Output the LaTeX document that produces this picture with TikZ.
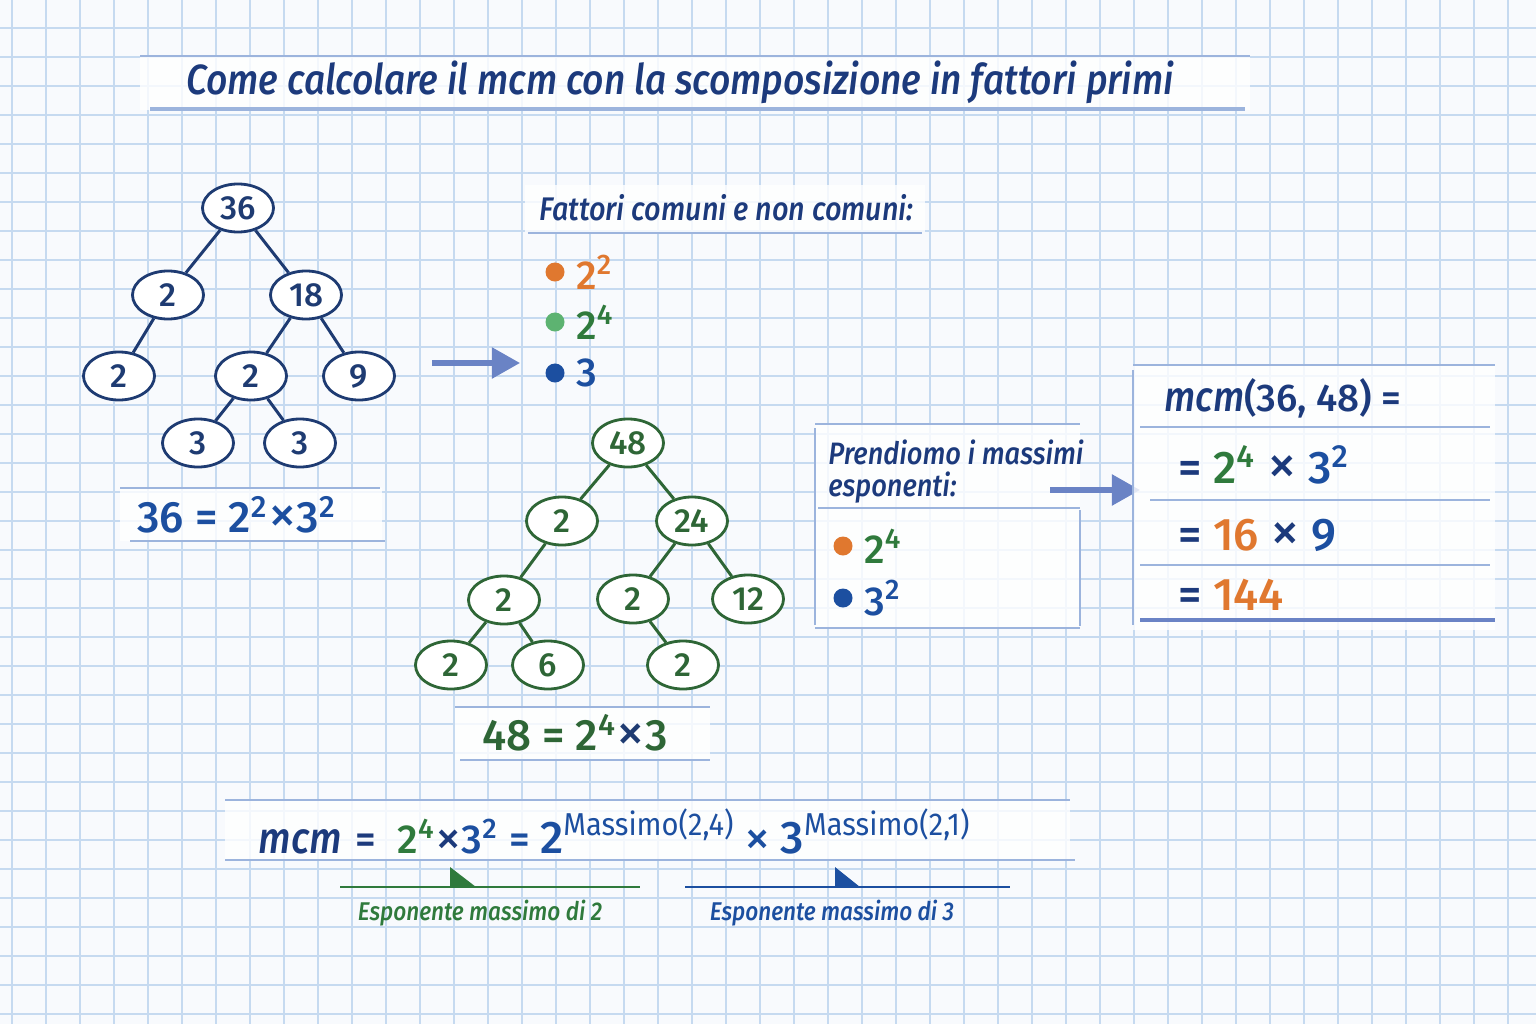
\documentclass[tikz,border=0pt]{standalone}
\usepackage{fontspec}
\setmainfont{Fira Sans}[BoldFont={Fira Sans Medium},BoldItalicFont={Fira Sans Medium Italic}]
\newfontfamily\handfont{Fira Sans Medium Italic}[FakeStretch=0.88]
\newfontfamily\narrowfont{Fira Sans}[FakeStretch=0.92]
\usetikzlibrary{positioning,arrows.meta,shapes.geometric}

\definecolor{paper}{HTML}{F8FAFD}
\definecolor{gridblue}{HTML}{C6DAF0}
\definecolor{ruleblue}{HTML}{9CB4DD}
\definecolor{inkblue}{HTML}{1C3A7C}
\definecolor{treeblue}{HTML}{1E3B72}
\definecolor{mathblue}{HTML}{1C4FA0}
\definecolor{treegreen}{HTML}{2E6636}
\definecolor{mathgreen}{HTML}{2F7A3C}
\definecolor{dotgreen}{HTML}{5DB371}
\definecolor{accorange}{HTML}{E0782F}
\definecolor{arrowblue}{HTML}{6A83C5}

\newcommand{\massimo}[1]{\raisebox{0.85ex}{\narrowfont\mdseries\fontsize{9}{9}\selectfont Massimo(#1)}}
\newcommand{\thinx}{\raisebox{-0.05ex}{\mdseries\scalebox{1.3}{×}}}

\begin{document}
\begin{tikzpicture}[x=0.01cm, y=0.01cm,
    grid line/.style={draw=gridblue, line width=0.3pt},
    rule/.style={draw=ruleblue, line width=0.6pt},
    panel/.style={fill=white, fill opacity=0.8},
    blue node/.style={ellipse, draw=treeblue, line width=0.8pt, fill=white,
      minimum width=0.71cm, minimum height=0.48cm, inner sep=0pt,
      text=treeblue, font=\fontsize{9.5}{10}\selectfont\bfseries},
    green node/.style={blue node, draw=treegreen, text=treegreen},
    blue edge/.style={draw=treeblue, line width=0.85pt},
    green edge/.style={draw=treegreen, line width=0.85pt},
    note text/.style={text=inkblue, font=\handfont\fontsize{9}{10}\selectfont},
    eq text/.style={font=\fontsize{12.5}{14}\selectfont\bfseries},
    item/.style={font=\fontsize{11.5}{13}\selectfont\bfseries, inner sep=2pt},
    dot/.style={circle, minimum size=0.19cm, inner sep=0pt},
    big arrow/.style={draw=arrowblue, line width=1.5pt,
      -{Triangle[length=0.28cm, width=0.3cm]}},
    label text/.style={font=\handfont\fontsize{7.3}{9}\selectfont}]

  \useasboundingbox (0,0) rectangle (1536,-1024);

  % squared paper
  \fill[paper] (0,0) rectangle (1536,-1024);
  \foreach \x in {12,46,...,1536} \draw[grid line] (\x,0) -- (\x,-1024);
  \foreach \y in {28,57,...,1024} \draw[grid line] (0,-\y) -- (1536,-\y);

  % title
  \fill[panel] (140,-55) rectangle (1250,-110);
  \draw[rule] (140,-56) -- (1250,-56);
  \draw[rule, line width=1pt] (150,-109) -- (1245,-109);
  \node[text=inkblue, font=\handfont\fontsize{12}{14}\selectfont] (title) at (680,-82)
    {Come calcolare il mcm con la scomposizione in fattori primi};

  % tree of 36
  \node[blue node] (n36) at (238,-208) {36};
  \node[blue node] (n2a) at (168,-295) {2};
  \node[blue node] (n18) at (306,-295) {18};
  \node[blue node] (n2b) at (119,-376) {2};
  \node[blue node] (n2c) at (251,-376) {2};
  \node[blue node] (n9) at (359,-376) {9};
  \node[blue node] (n3a) at (198,-443) {3};
  \node[blue node] (n3b) at (300,-443) {3};

  \path[blue edge]
  (n36) edge (n2a)
  (n36) edge (n18)
  (n2a) edge (n2b)
  (n18) edge (n2c)
  (n18) edge (n9)
  (n2c) edge (n3a)
  (n2c) edge (n3b)
  ;

  \fill[panel] (120,-488) rectangle (382,-541);
  \draw[rule] (120,-488) -- (380,-488);
  \draw[rule] (130,-541) -- (385,-541);
  \node[eq text, text=mathblue] (eq36) at (237,-515)
    {36 = 2\textsuperscript{2}\thinx 3\textsuperscript{2}};

  % tree of 48
  \node[green node] (m48) at (628,-443) {48};
  \node[green node] (m2a) at (562,-521) {2};
  \node[green node] (m24) at (692,-521) {24};
  \node[green node] (m2b) at (504,-600) {2};
  \node[green node] (m2c) at (633,-599) {2};
  \node[green node] (m12) at (748,-599) {12};
  \node[green node] (m2d) at (451,-665) {2};
  \node[green node] (m6) at (548,-665) {6};
  \node[green node] (m2e) at (683,-665) {2};

  \path[green edge]
  (m48) edge (m2a)
  (m48) edge (m24)
  (m2a) edge (m2b)
  (m24) edge (m2c)
  (m24) edge (m12)
  (m2b) edge (m2d)
  (m2b) edge (m6)
  (m2c) edge (m2e)
  ;

  \fill[panel] (455,-707) rectangle (710,-760);
  \draw[rule] (455,-707) -- (710,-707);
  \draw[rule] (460,-760) -- (710,-760);
  \node[eq text, text=treegreen] (eq48) at (575,-733)
    {48 = 2\textsuperscript{4}{\color{treeblue}\thinx}3};

  % common and non common factors
  \coordinate (a1s) at (432,-363);
  \coordinate (a1e) at (520,-363);
  \draw[big arrow] (a1s) -- (a1e);

  \fill[panel] (525,-185) rectangle (925,-232);
  \draw[rule] (528,-233) -- (922,-233);
  \node[note text, anchor=west, font=\handfont\fontsize{9.3}{10}\selectfont] (fattori) at (527,-208) {Fattori comuni e non comuni:};
  \node[dot, fill=accorange] (f1) at (555,-272) {};
  \node[item, right=1pt of f1, text=accorange] (f1t) {2\textsuperscript{2}};
  \node[dot, fill=dotgreen] (f2) at (555,-322) {};
  \node[item, right=1pt of f2, text=mathgreen] (f2t) {2\textsuperscript{4}};
  \node[dot, fill=mathblue] (f3) at (555,-373) {};
  \node[item, right=1pt of f3, text=mathblue] (f3t) {3};

  % highest exponents
  \fill[panel] (815,-425) rectangle (1080,-628);
  \draw[rule] (815,-424) -- (1080,-424);
  \draw[rule] (815,-428) -- (815,-625);
  \draw[rule] (818,-508) -- (1080,-508);
  \draw[rule] (1080,-510) -- (1080,-626);
  \draw[rule] (815,-628) -- (1080,-628);
  \node[note text, anchor=west, font=\handfont\fontsize{8.8}{10}\selectfont] (prend1) at (816,-452) {Prendiomo i massimi};
  \node[note text, anchor=west, font=\handfont\fontsize{8.8}{10}\selectfont] (prend2) at (816,-488) {esponenti:};
  \node[dot, fill=accorange] (p1) at (843,-546) {};
  \node[item, right=1pt of p1, text=mathgreen] (p1t) {2\textsuperscript{4}};
  \node[dot, fill=mathblue] (p2) at (843,-598) {};
  \node[item, right=1pt of p2, text=mathblue] (p2t) {3\textsuperscript{2}};

  \coordinate (a2s) at (1050,-490);
  \coordinate (a2e) at (1140,-490);
  \draw[big arrow] (a2s) -- (a2e);

  % result
  \fill[panel] (1133,-365) rectangle (1495,-630);
  \draw[rule] (1133,-365) -- (1495,-365);
  \draw[rule] (1133,-370) -- (1133,-625);
  \draw[rule] (1140,-427) -- (1490,-427);
  \draw[rule] (1150,-500) -- (1490,-500);
  \draw[rule] (1140,-565) -- (1490,-565);
  \draw[rule, line width=1.2pt, draw=arrowblue] (1140,-620) -- (1495,-620);
  \node[anchor=west, text=inkblue, font=\fontsize{11}{12}\selectfont\bfseries] (r0) at (1152,-398)
    {{\handfont\mdseries\fontsize{12}{12}\selectfont mcm}(36, 48) =};
  \node[anchor=west, text=inkblue, font=\fontsize{13}{15}\selectfont\bfseries] (r1) at (1166,-465)
    {= {\color{mathgreen}2\textsuperscript{4}} \thinx\ {\color{mathblue}3\textsuperscript{2}}};
  \node[anchor=west, text=inkblue, font=\fontsize{13}{15}\selectfont\bfseries] (r2) at (1166,-535)
    {= {\color{accorange}16} \thinx\ {\color{mathblue}9}};
  \node[anchor=west, text=inkblue, font=\fontsize{13}{15}\selectfont\bfseries] (r3) at (1166,-595)
    {= {\color{accorange}144}};

  % formula at the bottom
  \fill[panel] (225,-800) rectangle (1070,-860);
  \draw[rule] (225,-800) -- (1070,-800);
  \draw[rule] (225,-860) -- (1075,-860);
  \node[anchor=west, inner sep=0pt, text=inkblue, font=\fontsize{11.5}{13}\selectfont\bfseries] (mcmeq) at (258,-832)
    {{\handfont\mdseries\fontsize{12.5}{13}\selectfont mcm}\hspace{4pt}=\hspace{6pt}{\color{mathgreen}2\textsuperscript{4}}\thinx{\color{mathblue}3\textsuperscript{2}}\hspace{3pt}{\color{mathblue}=\hspace{3pt}{\fontsize{13}{14}\selectfont 2}\massimo{2,4}\hspace{3pt}\thinx\hspace{3pt}{\fontsize{13}{14}\selectfont 3}\massimo{2,1}}};

  \draw[draw=mathgreen, line width=0.8pt] (340,-887) -- (640,-887);
  \fill[mathgreen] (450,-867) -- (476,-887) -- (450,-887) -- cycle;
  \node[label text, text=mathgreen] (lab2) at (480,-913) {Esponente massimo di 2};

  \draw[draw=mathblue, line width=0.8pt] (685,-887) -- (1010,-887);
  \fill[mathblue] (835,-867) -- (860,-887) -- (835,-887) -- cycle;
  \node[label text, text=mathblue] (lab3) at (832,-913) {Esponente massimo di 3};
\end{tikzpicture}
\end{document}
